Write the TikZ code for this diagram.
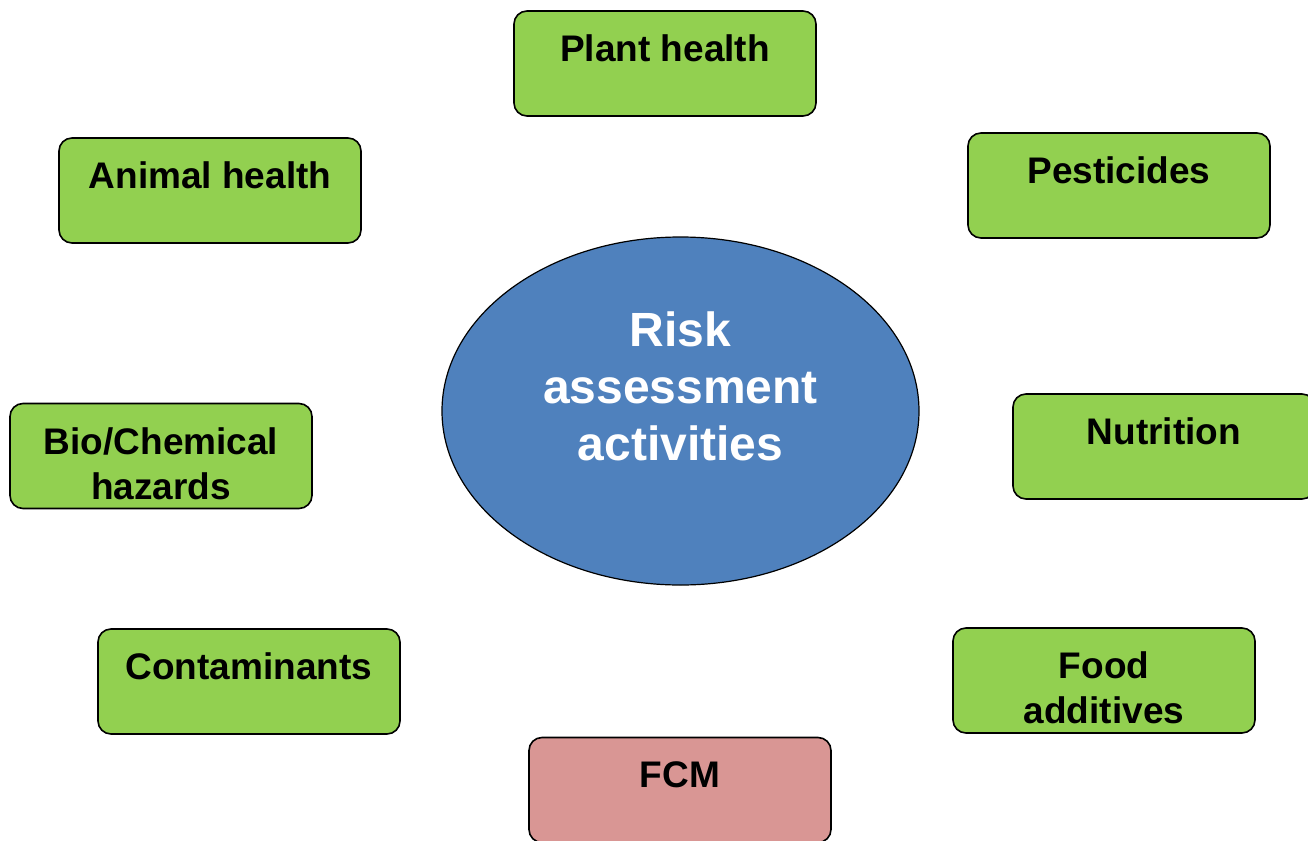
\documentclass[tikz,border=0pt]{standalone}
\usepackage{fontspec}
\setmainfont{Liberation Sans}
\usetikzlibrary{shapes.geometric}
\definecolor{leafgreen}{HTML}{92D050}
\definecolor{riskblue}{HTML}{4F81BD}
\definecolor{fcmrose}{HTML}{D99694}

\begin{document}
\begin{tikzpicture}[
  x=0.5pt, y=-0.5pt,
  topic/.style={
    rectangle,
    draw=black,
    line width=0.8pt,
    rounded corners=6.5pt,
    minimum width=151pt,
    minimum height=52.5pt,
    inner sep=0pt,
    fill=leafgreen
  },
  caption/.style={
    anchor=north,
    yshift=-12.25pt,
    inner sep=0pt,
    align=center,
    font=\fontsize{18.5}{22.5}\selectfont\bfseries
  },
  core/.style={
    ellipse,
    draw=black,
    line width=0.6pt,
    fill=riskblue,
    minimum width=238.5pt,
    minimum height=174pt,
    inner sep=0pt
  },
  corecaption/.style={
    anchor=north,
    yshift=-37.5pt,
    inner sep=0pt,
    align=center,
    text=white,
    font=\fontsize{24}{28.5}\selectfont\bfseries
  }
]
\useasboundingbox (0,0) rectangle (1308,841);

\node[core, label={[corecaption]north:Risk\\assessment\\activities}] (risk) at (680.5,411) {};

\node[topic, label={[caption]north:Plant health}] (plant) at (665,63.5) {};
\node[topic, label={[caption]north:Animal health}] (animal) at (210,190.5) {};
\node[topic, label={[caption]north:Pesticides}] (pesticides) at (1119,185.5) {};
\node[topic, label={[caption]north:Bio/Chemical\\hazards}] (biochem) at (161,456) {};
\node[topic, label={[caption]north:Nutrition}] (nutrition) at (1164,446.5) {};
\node[topic, label={[caption]north:Contaminants}] (contaminants) at (249,681.5) {};
\node[topic, label={[caption]north:Food\\additives}] (additives) at (1104,680.5) {};
\node[topic, fill=fcmrose, label={[caption]north:FCM}] (fcm) at (680,790) {};

\end{tikzpicture}
\end{document}
